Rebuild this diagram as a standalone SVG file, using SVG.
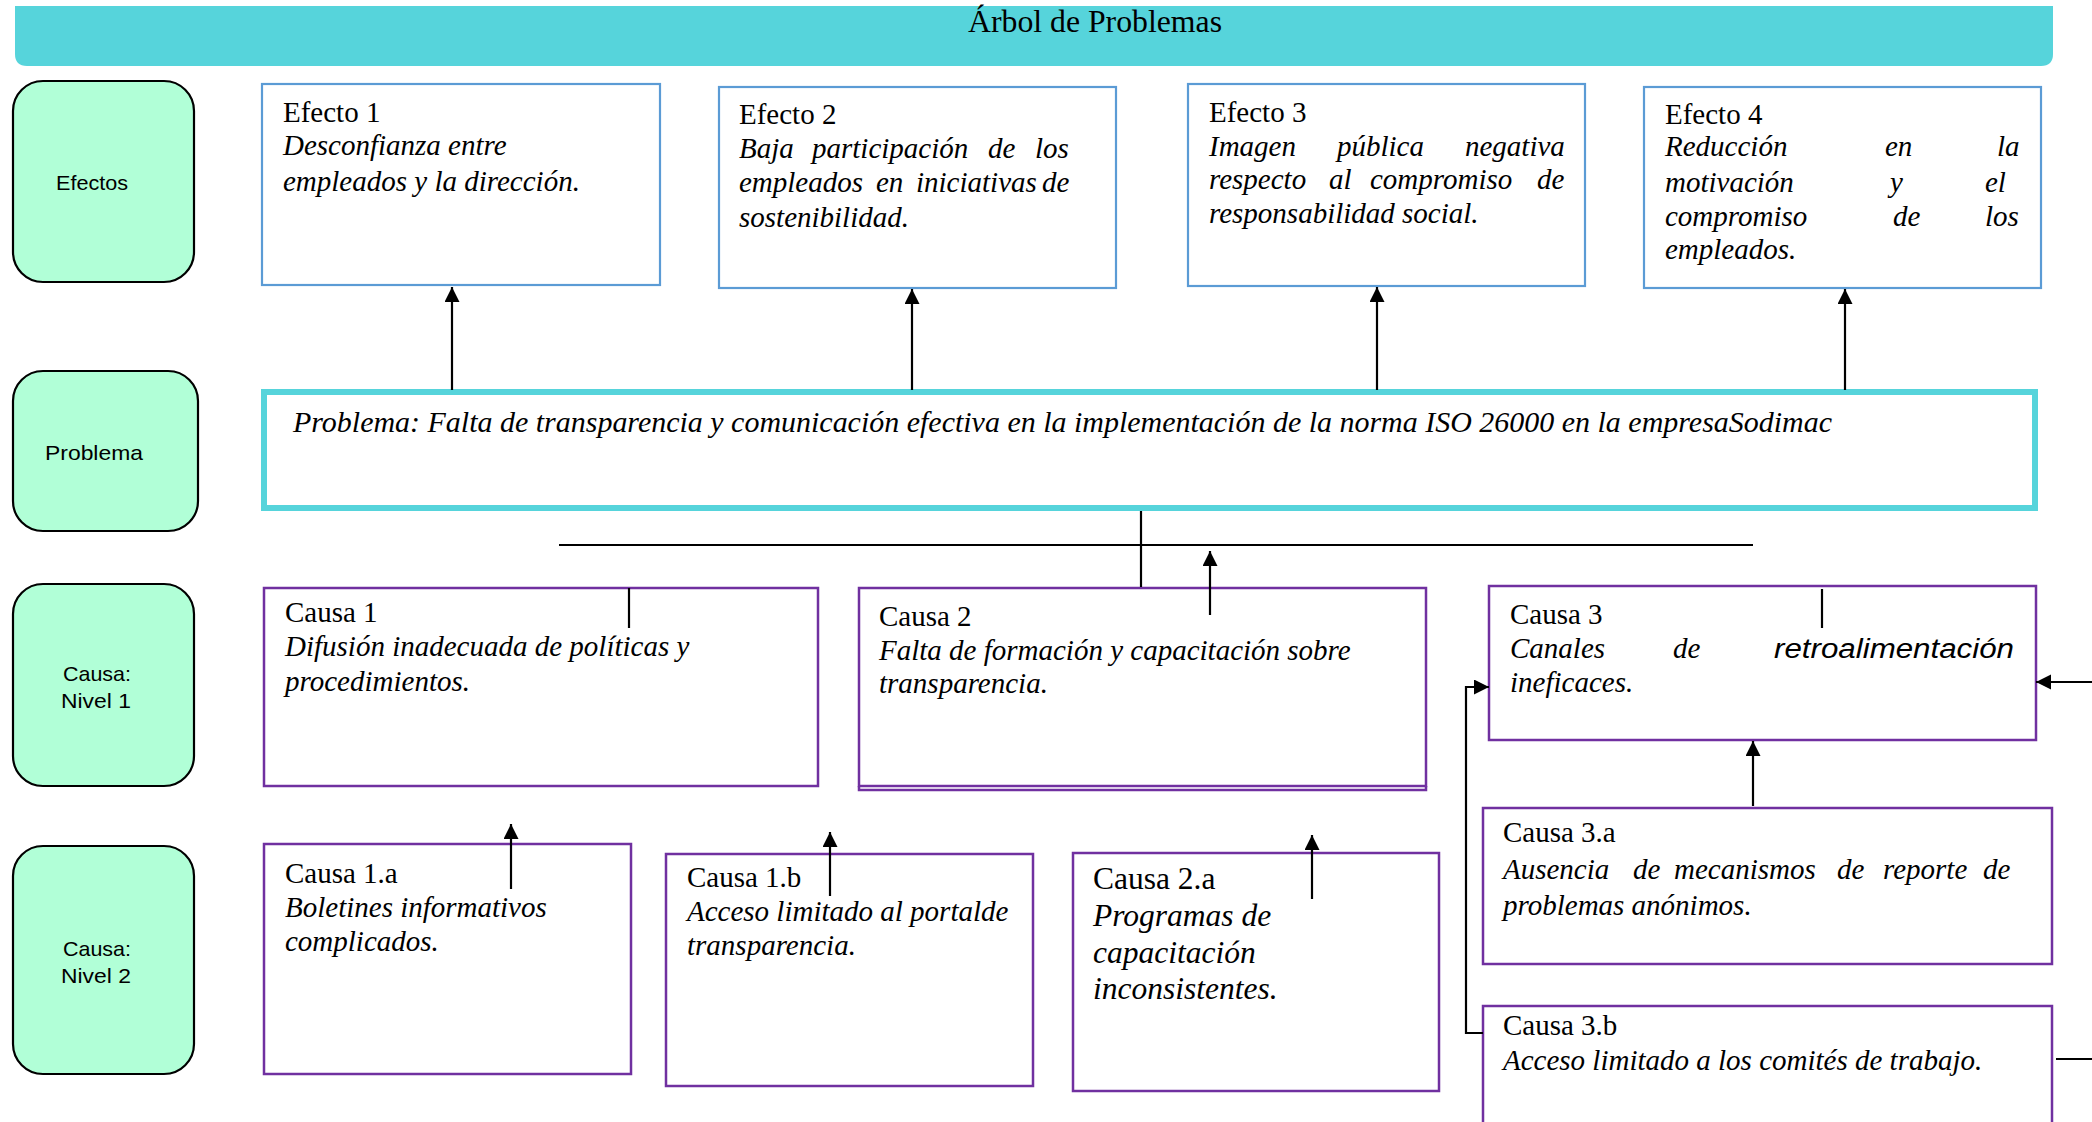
<svg xmlns="http://www.w3.org/2000/svg" width="2092" height="1122" viewBox="0 0 2092 1122">
<style>
  .lbl { fill:#B1FFD7; stroke:#000; stroke-width:2.2; }
  .lbltxt { font-family:'Liberation Sans', Arial, sans-serif; font-size:21px; fill:#000; text-anchor:middle; }
  .eff { fill:#fff; stroke:#5B9BD5; stroke-width:2.2; }
  .cau { fill:#fff; stroke:#7030A0; stroke-width:2.5; }
  .hd { font-family:'Liberation Serif', 'Times New Roman', serif; font-size:29px; fill:#000; }
  .it { font-family:'Liberation Serif', 'Times New Roman', serif; font-size:29px; font-style:italic; fill:#000; }
  .big { font-size:31.5px; }
  .ln { stroke:#000; stroke-width:2.2; fill:none; }
  .arr { stroke:#000; stroke-width:2.2; fill:none; marker-end:url(#ah); }
</style>
<defs>
  <marker id="ah" markerUnits="userSpaceOnUse" markerWidth="16" markerHeight="16" viewBox="0 0 16 16" refX="15" refY="7.5" orient="auto">
    <path d="M0,0 L15,7.5 L0,15 Z" fill="#000"/>
  </marker>
</defs>
<rect width="2092" height="1122" fill="#fff"/>

<g id="title">
  <path d="M15,6 H2053 V54 Q2053,66 2041,66 H27 Q15,66 15,54 Z" fill="#56D4DB"/>
  <text x="1095" y="32" text-anchor="middle" font-family="'Liberation Serif', 'Times New Roman', serif" font-size="31" textLength="254" lengthAdjust="spacingAndGlyphs">Árbol de Problemas</text>
</g>

<g id="label-efectos">
  <rect class="lbl" x="13" y="81" width="181" height="201" rx="30"/>
  <text class="lbltxt" x="92" y="190" textLength="72" lengthAdjust="spacingAndGlyphs">Efectos</text>
</g>
<g id="label-problema">
  <rect class="lbl" x="13" y="371" width="185" height="160" rx="30"/>
  <text class="lbltxt" x="94" y="460" textLength="98" lengthAdjust="spacingAndGlyphs">Problema</text>
</g>
<g id="label-causa1">
  <rect class="lbl" x="13" y="584" width="181" height="202" rx="30"/>
  <text class="lbltxt" x="97" y="681" textLength="68" lengthAdjust="spacingAndGlyphs">Causa:</text>
  <text class="lbltxt" x="96" y="708" textLength="70" lengthAdjust="spacingAndGlyphs">Nivel 1</text>
</g>
<g id="label-causa2">
  <rect class="lbl" x="13" y="846" width="181" height="228" rx="30"/>
  <text class="lbltxt" x="97" y="956" textLength="68" lengthAdjust="spacingAndGlyphs">Causa:</text>
  <text class="lbltxt" x="96" y="983" textLength="70" lengthAdjust="spacingAndGlyphs">Nivel 2</text>
</g>

<g id="efecto1">
  <rect class="eff" x="262" y="84" width="398" height="201"/>
  <text class="hd" x="283" y="122">Efecto 1</text>
  <text class="it" x="283" y="155">Desconfianza entre</text>
  <text class="it" x="283" y="191">empleados y la dirección.</text>
</g>
<g id="efecto2">
  <rect class="eff" x="719" y="87" width="397" height="201"/>
  <text class="hd" x="739" y="124">Efecto 2</text>
  <text class="it" y="158"><tspan x="739">Baja</tspan><tspan x="812">participación</tspan><tspan x="988">de</tspan><tspan x="1035">los</tspan></text>
  <text class="it" y="192"><tspan x="739">empleados</tspan><tspan x="876">en</tspan><tspan x="916">iniciativas</tspan><tspan x="1042">de</tspan></text>
  <text class="it" x="739" y="227">sostenibilidad.</text>
</g>
<g id="efecto3">
  <rect class="eff" x="1188" y="84" width="397" height="202"/>
  <text class="hd" x="1209" y="122">Efecto 3</text>
  <text class="it" y="156"><tspan x="1209">Imagen</tspan><tspan x="1337">pública</tspan><tspan x="1465">negativa</tspan></text>
  <text class="it" y="189"><tspan x="1209">respecto</tspan><tspan x="1329">al</tspan><tspan x="1370">compromiso</tspan><tspan x="1537">de</tspan></text>
  <text class="it" x="1209" y="223">responsabilidad social.</text>
</g>
<g id="efecto4">
  <rect class="eff" x="1644" y="87" width="397" height="201"/>
  <text class="hd" x="1665" y="124">Efecto 4</text>
  <text class="it" y="156"><tspan x="1665">Reducción</tspan><tspan x="1885">en</tspan><tspan x="1997">la</tspan></text>
  <text class="it" y="192"><tspan x="1665">motivación</tspan><tspan x="1890">y</tspan><tspan x="1985">el</tspan></text>
  <text class="it" y="226"><tspan x="1665">compromiso</tspan><tspan x="1893">de</tspan><tspan x="1985">los</tspan></text>
  <text class="it" x="1665" y="259">empleados.</text>
</g>

<g id="problema">
  <rect x="264" y="392" width="1771" height="116" fill="#fff" stroke="#56D4DB" stroke-width="6"/>
  <text class="it" x="293" y="432" textLength="1539" lengthAdjust="spacingAndGlyphs">Problema: Falta de transparencia y comunicación efectiva en la implementación de la norma ISO 26000 en la empresaSodimac</text>
</g>

<g id="causa1">
  <rect class="cau" x="264" y="588" width="554" height="198"/>
  <text class="hd" x="285" y="622">Causa 1</text>
  <text class="it" x="285" y="656">Difusión inadecuada de políticas y</text>
  <text class="it" x="285" y="691">procedimientos.</text>
</g>
<g id="causa2">
  <rect class="cau" x="859" y="588" width="567" height="198"/>
  <path d="M859,786 V790 H1426 V786" fill="none" stroke="#7030A0" stroke-width="2.5"/>
  <text class="hd" x="879" y="626">Causa 2</text>
  <text class="it" x="879" y="660">Falta de formación y capacitación sobre</text>
  <text class="it" x="879" y="693">transparencia.</text>
</g>
<g id="causa3">
  <rect class="cau" x="1489" y="586" width="547" height="154"/>
  <text class="hd" x="1510" y="624">Causa 3</text>
  <text class="it" y="658"><tspan x="1510">Canales</tspan><tspan x="1673">de</tspan><tspan x="1774" font-family="'Liberation Sans', Arial, sans-serif" font-size="27" textLength="240" lengthAdjust="spacingAndGlyphs">retroalimentación</tspan></text>
  <text class="it" x="1510" y="692">ineficaces.</text>
</g>

<g id="causa1a">
  <rect class="cau" x="264" y="844" width="367" height="230"/>
  <text class="hd" x="285" y="883">Causa 1.a</text>
  <text class="it" x="285" y="917">Boletines informativos</text>
  <text class="it" x="285" y="951">complicados.</text>
</g>
<g id="causa1b">
  <rect class="cau" x="666" y="854" width="367" height="232"/>
  <text class="hd" x="687" y="887">Causa 1.b</text>
  <text class="it" x="687" y="921">Acceso limitado al portalde</text>
  <text class="it" x="687" y="955">transparencia.</text>
</g>
<g id="causa2a">
  <rect class="cau" x="1073" y="853" width="366" height="238"/>
  <text class="hd big" x="1093" y="889">Causa 2.a</text>
  <text class="it big" x="1093" y="926">Programas de</text>
  <text class="it big" x="1093" y="963">capacitación</text>
  <text class="it big" x="1093" y="999">inconsistentes.</text>
</g>
<g id="causa3a">
  <rect class="cau" x="1483" y="808" width="569" height="156"/>
  <text class="hd" x="1503" y="842">Causa 3.a</text>
  <text class="it" y="879"><tspan x="1503">Ausencia</tspan><tspan x="1633">de</tspan><tspan x="1674">mecanismos</tspan><tspan x="1837">de</tspan><tspan x="1883">reporte</tspan><tspan x="1983">de</tspan></text>
  <text class="it" x="1503" y="915">problemas anónimos.</text>
</g>
<g id="causa3b">
  <rect class="cau" x="1483" y="1006" width="569" height="130"/>
  <text class="hd" x="1503" y="1035">Causa 3.b</text>
  <text class="it" x="1503" y="1070">Acceso limitado a los comités de trabajo.</text>
</g>

<g id="connectors">
  <line class="arr" x1="452" y1="390" x2="452" y2="287"/>
  <line class="arr" x1="912" y1="390" x2="912" y2="289"/>
  <line class="arr" x1="1377" y1="390" x2="1377" y2="287"/>
  <line class="arr" x1="1845" y1="390" x2="1845" y2="289"/>
  <line class="ln" x1="1141" y1="511" x2="1141" y2="587"/>
  <line class="ln" x1="559" y1="545" x2="1753" y2="545" stroke-width="3.2"/>
  <line class="arr" x1="1210" y1="615" x2="1210" y2="551"/>
  <line class="ln" x1="629" y1="588" x2="629" y2="628"/>
  <line class="ln" x1="1822" y1="589" x2="1822" y2="628"/>
  <line class="arr" x1="511" y1="889" x2="511" y2="824"/>
  <line class="arr" x1="830" y1="896" x2="830" y2="832"/>
  <line class="arr" x1="1312" y1="899" x2="1312" y2="835"/>
  <line class="arr" x1="1753" y1="806" x2="1753" y2="741"/>
  <path class="arr" d="M1483,1033 H1466 V687 H1489" stroke-width="3"/>
  <line class="arr" x1="2092" y1="682" x2="2036" y2="682" stroke-width="3"/>
  <line class="ln" x1="2056" y1="1059" x2="2092" y2="1059" stroke-width="3"/>
</g>
</svg>
